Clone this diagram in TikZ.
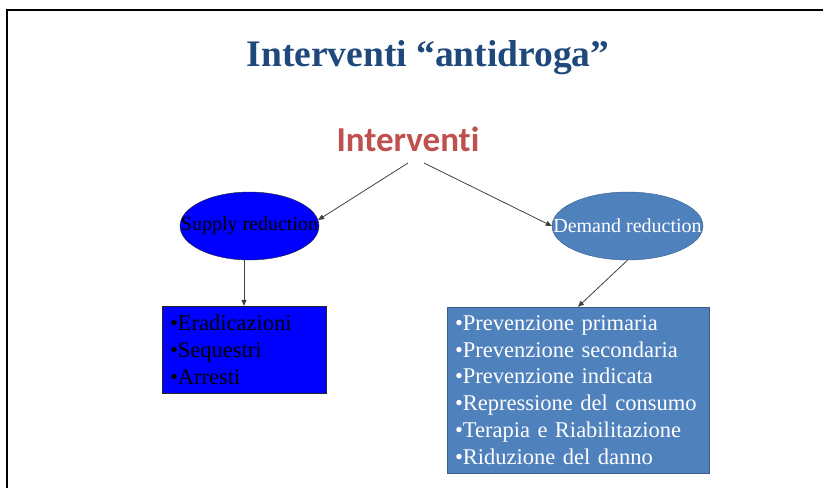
\documentclass[tikz,border=0pt]{standalone}
\usepackage{fontspec}
\setmainfont{Liberation Serif}
\newfontfamily\carlitofont[Ligatures=NoCommon]{Carlito}
\usetikzlibrary{arrows.meta,shapes.geometric,positioning}
\definecolor{titleblue}{RGB}{31,73,125}
\definecolor{rootred}{RGB}{192,80,77}
\definecolor{accentblue}{RGB}{79,129,189}
\definecolor{accentedge}{RGB}{56,93,138}
\newcommand\voce[1]{\textbullet#1}

\begin{document}
\begin{tikzpicture}[x=1pt, y=-1pt,
    oval/.style={ellipse, draw=black!85, inner sep=0pt, minimum width=139pt, minimum height=68pt,
        font=\fontsize{20}{24}\selectfont},
    listbox/.style={draw, inner sep=0pt, align=left, font=\fontsize{22.5}{26.8}\selectfont},
    link/.style={draw=black!75, line width=0.8pt, -{Triangle[length=6pt,width=5pt]}}]
    \useasboundingbox (0,0) rectangle (823,488);

    % Cornice
    \draw [line width=2.5pt] (7,488) -- (7,10) -- (823,10);

    % Titoli
    \node [anchor=base, text=titleblue, font=\bfseries\fontsize{37.5}{40}\selectfont] (titolo) at (428,66) {Interventi “antidroga”};
    \node [anchor=base, text=rootred, font=\carlitofont\bfseries\fontsize{35}{40}\selectfont] (radice) at (408,151) {Interventi};
    \coordinate (partenzaS) at (408,163);
    \coordinate (partenzaD) at (424,163);

    % Ellissi
    \node [oval, fill=blue] (supply) at (249.5,226) {\makebox[0pt]{Supply reduction}};
    \node [oval, fill=accentblue, draw=accentedge, text=white, minimum width=151pt] (demand) at (627.5,226) {\makebox[0pt]{Demand reduction}};

    % Riquadri
    \node [listbox, fill=blue, draw=black!85, minimum width=164pt, minimum height=87pt, text width=148pt] (sbox) at (244,349.5)
        {\voce{Eradicazioni}\\ \voce{Sequestri}\\ \voce{Arresti}};
    \node [listbox, fill=accentblue, draw=accentedge, text=white, minimum width=262pt, minimum height=166pt, text width=246pt] (dbox) at (578,390)
        {\voce{Prevenzione primaria}\\ \voce{Prevenzione secondaria}\\ \voce{Prevenzione indicata}\\
         \voce{Repressione del consumo}\\ \voce{Terapia e Riabilitazione}\\ \voce{Riduzione del danno}};

    % Frecce
    \draw [link] (partenzaS) -- (supply.5);
    \draw [link] (partenzaD) -- (demand.west);
    \draw [link] (supply.south -| sbox.north) -- (sbox.north);
    \draw [link] (demand.south) -- (dbox.north);
\end{tikzpicture}
\end{document}
